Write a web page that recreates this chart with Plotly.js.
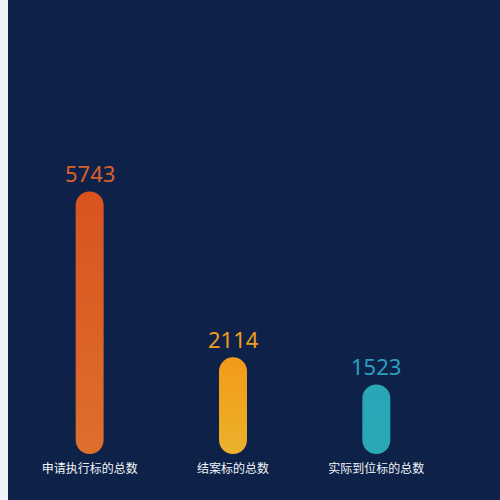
<!DOCTYPE html>
<html>
<head>
<meta charset="utf-8">
<script src="https://cdn.plot.ly/plotly-3.0.1.min.js"></script>
<style>
html,body{margin:0;padding:0;background:#eff2f8;width:500px;height:500px;overflow:hidden;}
#chart{position:absolute;left:8px;top:0;width:492px;height:500px;}
</style>
</head>
<body>
<div id="chart"></div>
<script>
var categories = ["申请执行标的总数", "结案标的总数", "实际到位标的总数"];
var values = [5743, 2114, 1523];
var labelColors = ["#d8602a", "#f09d1f", "#2a9fbe"];
var gradTop = ["#d9531f", "#f39a1a", "#2aa5b7"];
var gradBottom = ["#dd6f2d", "#ebb22b", "#2aaab4"];

var trace = {
  type: "bar",
  x: categories,
  y: values,
  marker: {color: gradTop, line: {width: 0}},
  hoverinfo: "none"
};

var annotations = categories.map(function (c, i) {
  return {
    x: c, y: values[i], xref: "x", yref: "y",
    text: String(values[i]),
    showarrow: false,
    yanchor: "bottom",
    yshift: 1,
    font: {family: "Noto Sans, sans-serif", size: 22, color: labelColors[i]}
  };
});

var layout = {
  width: 492, height: 500,
  paper_bgcolor: "#0e2249",
  plot_bgcolor: "#0e2249",
  margin: {l: 10, r: 52, t: 134, b: 46},
  bargap: 0.805,
  showlegend: false,
  xaxis: {
    showgrid: false, zeroline: false, showline: false, ticks: "",
    ticklabelstandoff: 6,
    tickfont: {family: "Noto Sans CJK SC, sans-serif", size: 12, color: "#f2f4f8"},
    fixedrange: true
  },
  yaxis: {
    range: [0, 7000], showgrid: false, zeroline: false, showline: false,
    showticklabels: false, ticks: "", fixedrange: true
  },
  annotations: annotations
};

Plotly.newPlot("chart", [trace], layout, {displayModeBar: false, staticPlot: true}).then(function (gd) {
  var svg = gd.querySelector("svg.main-svg");
  var ns = "http://www.w3.org/2000/svg";
  var defs = svg.querySelector("defs") || svg.insertBefore(document.createElementNS(ns, "defs"), svg.firstChild);
  var paths = gd.querySelectorAll(".barlayer .point path");
  paths.forEach(function (p, i) {
    var g = document.createElementNS(ns, "linearGradient");
    g.setAttribute("id", "bargrad" + i);
    g.setAttribute("x1", "0"); g.setAttribute("y1", "0");
    g.setAttribute("x2", "0"); g.setAttribute("y2", "1");
    var s1 = document.createElementNS(ns, "stop");
    s1.setAttribute("offset", "0"); s1.setAttribute("stop-color", gradTop[i]);
    var s2 = document.createElementNS(ns, "stop");
    s2.setAttribute("offset", "1"); s2.setAttribute("stop-color", gradBottom[i]);
    g.appendChild(s1); g.appendChild(s2);
    defs.appendChild(g);
    var b = p.getBBox();
    var r = Math.min(b.width / 2, b.height / 2);
    var x0 = b.x, x1 = b.x + b.width, y0 = b.y, y1 = b.y + b.height;
    var d = "M" + x0 + "," + (y0 + r) +
      "A" + r + "," + r + " 0 0 1 " + x1 + "," + (y0 + r) +
      "V" + (y1 - r) +
      "A" + r + "," + r + " 0 0 1 " + x0 + "," + (y1 - r) + "Z";
    p.setAttribute("d", d);
    p.style.fill = "url(#bargrad" + i + ")";
  });
});
</script>
</body>
</html>
